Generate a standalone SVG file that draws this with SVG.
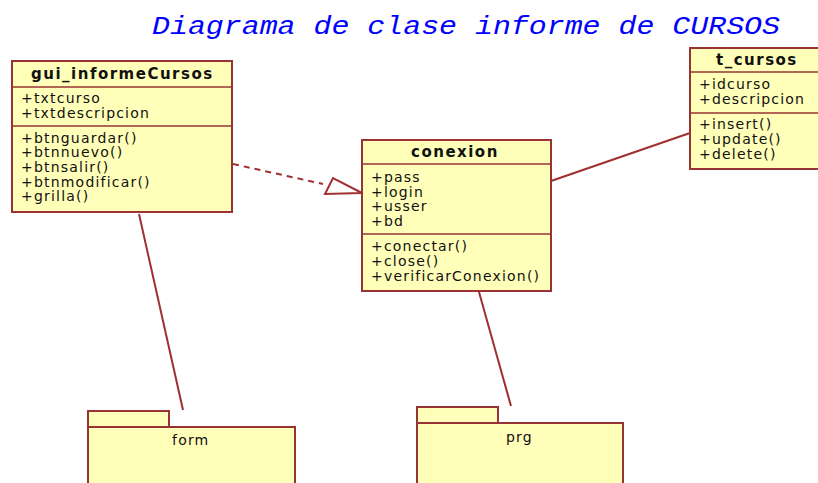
<svg xmlns="http://www.w3.org/2000/svg" width="818" height="483" viewBox="0 0 818 483">
<defs>
<style>
.box{fill:#ffffb9;stroke:#993333;stroke-width:2}
.div{stroke:#993333;stroke-width:1.5;fill:none}
.t{font-family:"DejaVu Sans",Verdana,sans-serif;font-size:14px;letter-spacing:1.2px;fill:#111}
.h{font-family:"DejaVu Sans",Verdana,sans-serif;font-size:15px;font-weight:bold;letter-spacing:1.5px;fill:#111}
.ln{stroke:#a03030;stroke-width:2;fill:none}
</style>
</defs>
<rect width="818" height="483" fill="#ffffff"/>
<text x="152" y="34" font-family="'Liberation Mono','Courier New',monospace" font-style="italic" font-size="26" fill="#0000ff" textLength="628" lengthAdjust="spacingAndGlyphs">Diagrama de clase informe de CURSOS</text>

<g id="connectors">
<line class="ln" x1="233" y1="164" x2="323" y2="184" stroke-dasharray="6,5"/>
<polygon points="362,193 333,178 325,194" fill="#ffffff" stroke="#a03030" stroke-width="2"/>
<line class="ln" x1="551" y1="181" x2="690" y2="133"/>
<line class="ln" x1="139" y1="214" x2="183" y2="410"/>
<line class="ln" x1="479" y1="292" x2="511" y2="406"/>
</g>

<g id="gui_informeCursos">
<rect class="box" x="12" y="61" width="220" height="151"/>
<line class="div" x1="12" y1="87" x2="232" y2="87"/>
<line class="div" x1="12" y1="126" x2="232" y2="126"/>
<text class="h" x="31" y="79">gui_informeCursos</text>
<text class="t" x="21" y="103">+txtcurso</text>
<text class="t" x="21" y="118">+txtdescripcion</text>
<text class="t" x="21" y="143">+btnguardar()</text>
<text class="t" x="21" y="157">+btnnuevo()</text>
<text class="t" x="21" y="172">+btnsalir()</text>
<text class="t" x="21" y="187">+btnmodificar()</text>
<text class="t" x="21" y="201">+grilla()</text>
</g>

<g id="conexion">
<rect class="box" x="362" y="140" width="189" height="151"/>
<line class="div" x1="362" y1="164" x2="551" y2="164"/>
<line class="div" x1="362" y1="234" x2="551" y2="234"/>
<text class="h" x="411" y="157">conexion</text>
<text class="t" x="371" y="182">+pass</text>
<text class="t" x="371" y="197">+login</text>
<text class="t" x="371" y="211">+usser</text>
<text class="t" x="371" y="226">+bd</text>
<text class="t" x="371" y="251">+conectar()</text>
<text class="t" x="371" y="266">+close()</text>
<text class="t" x="371" y="281">+verificarConexion()</text>
</g>

<g id="t_cursos">
<rect class="box" x="690" y="48" width="140" height="121"/>
<line class="div" x1="690" y1="72" x2="830" y2="72"/>
<line class="div" x1="690" y1="113" x2="830" y2="113"/>
<text class="h" x="716" y="65">t_cursos</text>
<text class="t" x="699" y="89">+idcurso</text>
<text class="t" x="699" y="104">+descripcion</text>
<text class="t" x="699" y="129">+insert()</text>
<text class="t" x="699" y="144">+update()</text>
<text class="t" x="699" y="159">+delete()</text>
</g>

<g id="form">
<rect class="box" x="88" y="411" width="81" height="16"/>
<rect class="box" x="88" y="427" width="207" height="70"/>
<text class="t" x="172" y="445">form</text>
</g>

<g id="prg">
<rect class="box" x="417" y="407" width="81" height="16"/>
<rect class="box" x="417" y="423" width="206" height="70"/>
<text class="t" x="506" y="442">prg</text>
</g>
</svg>
